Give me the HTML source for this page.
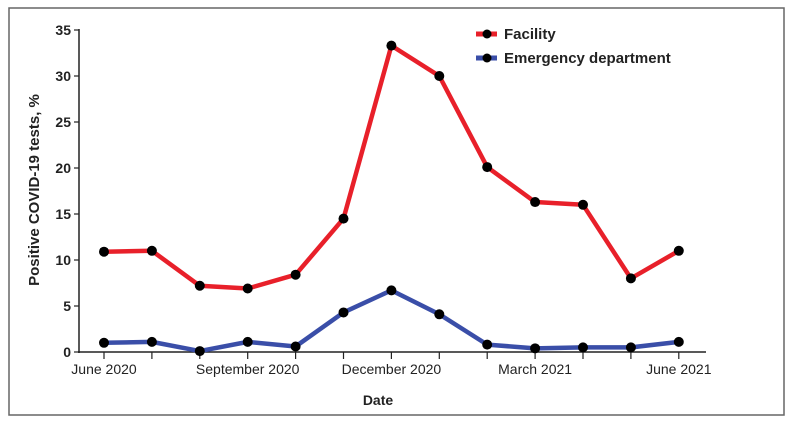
<!DOCTYPE html>
<html><head><meta charset="utf-8"><style>
html,body{margin:0;padding:0;background:#fff;}
svg{display:block;font-family:"Liberation Sans",Arial,sans-serif;}
</style></head><body>
<svg id="chart" width="790" height="423" viewBox="0 0 790 423">
<rect x="9" y="8" width="775" height="407" fill="#fff" stroke="#666" stroke-width="1.5"/>
<g id="axes"></g>
<g id="series"></g>
<g>
  <g>
    <line x1="476" y1="34" x2="497" y2="34" stroke="#e8202a" stroke-width="5"/>
    <circle cx="487" cy="34" r="4.5" fill="#000"/>
    <text x="504" y="39" font-size="15" font-weight="bold" fill="#222">Facility</text>
  </g>
  <g>
    <line x1="476" y1="58" x2="497" y2="58" stroke="#3a4ea8" stroke-width="5"/>
    <circle cx="487" cy="58" r="4.5" fill="#000"/>
    <text x="504" y="63" font-size="15" font-weight="bold" fill="#222">Emergency department</text>
  </g>
</g>
<text x="39" y="190" font-size="15" font-weight="bold" fill="#222" text-anchor="middle" transform="rotate(-90 39 190)">Positive COVID-19 tests, %</text>
<text x="378" y="405" font-size="14" font-weight="bold" fill="#222" text-anchor="middle">Date</text>
</svg>
<script>
const months = ["Jun 2020","Jul 2020","Aug 2020","Sep 2020","Oct 2020","Nov 2020","Dec 2020","Jan 2021","Feb 2021","Mar 2021","Apr 2021","May 2021","Jun 2021"];
const facility = [10.9, 11.0, 7.2, 6.9, 8.4, 14.5, 33.3, 30.0, 20.1, 16.3, 16.0, 8.0, 11.0];
const emergency = [1.0, 1.1, 0.1, 1.1, 0.6, 4.3, 6.7, 4.1, 0.8, 0.4, 0.5, 0.5, 1.1];
const yTicks = [0, 5, 10, 15, 20, 25, 30, 35];
const xLabelIdx = [0, 3, 6, 9, 12];
const xLabels = ["June 2020", "September 2020", "December 2020", "March 2021", "June 2021"];

const NS = "http://www.w3.org/2000/svg";
const x = i => 104 + i * 47.9;
const y = v => 352 - v * (322 / 35);
function mk(tag, attrs, parent) {
  const e = document.createElementNS(NS, tag);
  for (const k in attrs) e.setAttribute(k, attrs[k]);
  parent.appendChild(e);
  return e;
}
const axes = document.getElementById("axes");
const ya = mk("line", {x1: 79, y1: 29, x2: 79, y2: 353, stroke: "#222", "stroke-width": 1.5}, axes);


const xa = mk("line", {x1: 78, y1: 352, x2: 706, y2: 352, stroke: "#222", "stroke-width": 1.5}, axes);


yTicks.forEach(t => {
  const tk = mk("line", {x1: 74, y1: y(t), x2: 79, y2: y(t), stroke: "#222", "stroke-width": 1.2}, axes);
  
  
  const tx = mk("text", {x: 71, y: y(t) + 5, "font-size": 14, "font-weight": "bold", fill: "#222", "text-anchor": "end"}, axes);
  tx.textContent = t;
  
  
});
months.forEach((m, i) => {
  const tk = mk("line", {x1: x(i), y1: 352, x2: x(i), y2: 359, stroke: "#222", "stroke-width": 1.2}, axes);
  
  
});
xLabelIdx.forEach((idx, j) => {
  const tx = mk("text", {x: x(idx), y: 374, "font-size": 14, fill: "#222", "text-anchor": "middle"}, axes);
  tx.textContent = xLabels[j];
  
  
});
const series = document.getElementById("series");
function draw(vals, color, name) {
  const g = mk("g", {}, series);
  
  
  const pl = mk("polyline", {points: vals.map((v, i) => x(i) + "," + y(v)).join(" "), fill: "none", stroke: color, "stroke-width": 4.5, "stroke-linejoin": "round"}, g);
  
  
  vals.forEach((v, i) => {
    const c = mk("circle", {cx: x(i), cy: y(v), r: 5, fill: "#000"}, g);
    
    
  });
}
draw(emergency, "#3a4ea8", "emergency-department");
draw(facility, "#e8202a", "facility");
</script>
</body></html>
